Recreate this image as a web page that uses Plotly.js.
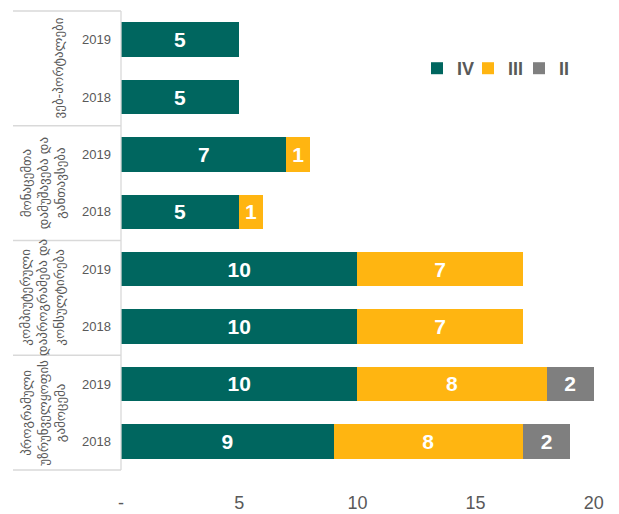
<!DOCTYPE html>
<html>
<head>
<meta charset="utf-8">
<script src="https://cdn.plot.ly/plotly-3.0.1.min.js"></script>
<style>html,body{margin:0;padding:0;background:#fff;}#chart{width:619px;height:514px;}</style>
</head>
<body>
<div id="chart"></div>
<script>
// Rows top-to-bottom
const groups = ["ვებ-პორტალები",
  "მონაცემთა<br>დამუშავება და<br>განთავსება",
  "კომპიუტერული<br>დაპროგრამება და<br>კონსულტირება",
  "პროგრამული<br>უზრუნველყოფის<br>გამოცემა"];
const years = ["2019","2018","2019","2018","2019","2018","2019","2018"];
const seriesNames = ["IV","III","II"];
const valsIV  = [5, 5, 7, 5, 10, 10, 10, 9];
const valsIII = [0, 0, 1, 1, 7, 7, 8, 8];
const valsII  = [0, 0, 0, 0, 0, 0, 2, 2];
const colors = ["#00665F", "#FFB511", "#7F7F7F"];
const xTickVals = [0, 5, 10, 15, 20];
const xTickText = ["-", "5", "10", "15", "20"];

const rows = years.map((_, i) => i);
const allVals = [valsIV, valsIII, valsII];

const traces = allVals.map((v, k) => ({
  type: 'bar',
  orientation: 'h',
  name: seriesNames[k],
  y: rows,
  x: v.map(d => d === 0 ? null : d),
  text: v.map(d => d === 0 ? '' : String(d)),
  textposition: 'inside',
  insidetextanchor: 'middle',
  textangle: 0,
  constraintext: 'none',
  insidetextfont: {family: 'Liberation Sans, Arial, sans-serif', size: 21, color: '#ffffff', weight: 'bold'},
  marker: {color: colors[k], line: {width: 0}},
  width: 0.6,
  hoverinfo: 'skip'
}));

const L = 121, R = 24, T = 11, B = 44;
const plotW = 619 - L - R;
function px2paper(px){ return (px - L) / plotW; }

const shapes = [];
[0, 0.25, 0.5, 0.75, 1].forEach(yy => {
  shapes.push({type:'line', xref:'paper', yref:'paper', x0:px2paper(13), x1:0, y0:yy, y1:yy,
    line:{color:'#D9D9D9', width:1.3}});
});
shapes.push({type:'line', xref:'paper', yref:'paper', x0:0, x1:0, y0:0, y1:1, line:{color:'#D9D9D9', width:1.3}});

const groupX = [58, 43, 43, 44];
const annotations = groups.map((g, i) => ({
  xref:'paper', yref:'paper', x: px2paper(groupX[i]), y: 1 - (i + 0.5) / 4,
  text: g, showarrow:false, textangle:-90, xanchor:'center', yanchor:'middle',
  align:'center',
  font:{family:'DejaVu Sans, sans-serif', size:13, color:'#595959'}
}));

const layout = {
  width: 619, height: 514,
  margin: {l: L, r: R, t: T, b: B, pad: 0, autoexpand: false},
  paper_bgcolor: '#ffffff', plot_bgcolor: '#ffffff',
  barmode: 'stack',
  showlegend: true,
  legend: {orientation:'h', x: px2paper(417), y: 0.915, xanchor:'left', yanchor:'top',
    traceorder:'normal', itemwidth: 30, entrywidth: 6,
    font:{family:'Liberation Sans, Arial, sans-serif', size:18, color:'#595959', weight:'bold'},
    bgcolor:'rgba(0,0,0,0)'},
  xaxis: {range:[0, 20.05], tickvals: xTickVals, ticktext: xTickText, showgrid:false, zeroline:false,
    showline:false, ticks:'', ticklabelstandoff: 20,
    tickfont:{family:'Liberation Sans, Arial, sans-serif', size:18, color:'#595959'}, fixedrange:true},
  yaxis: {range:[7.5, -0.5], tickvals: rows, ticktext: years, showgrid:false, zeroline:false,
    showline:false, ticks:'', ticklabelstandoff: 9,
    tickfont:{family:'Liberation Sans, Arial, sans-serif', size:13, color:'#595959'}, fixedrange:true},
  shapes: shapes,
  annotations: annotations
};

Plotly.newPlot('chart', traces, layout, {displayModeBar:false, staticPlot:true});
</script>
</body>
</html>
